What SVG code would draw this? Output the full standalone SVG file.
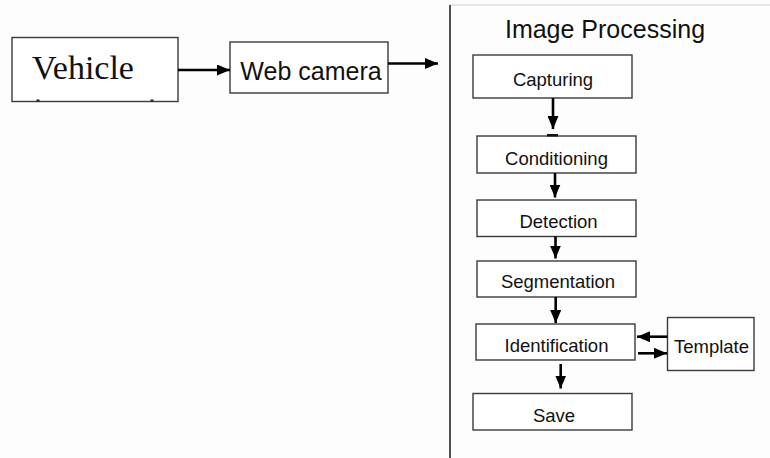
<svg xmlns="http://www.w3.org/2000/svg" width="770" height="458" viewBox="0 0 770 458">
<style>
.box{fill:#ffffff;stroke:#3a3a3a;stroke-width:1.4}
.lbl{font-family:"Liberation Sans",Arial,sans-serif;font-size:18.5px;fill:#111;text-anchor:middle}
.conn{stroke:#000;stroke-width:2.6;fill:none;marker-end:url(#ah)}
</style>
<defs>
<marker id="ah" markerUnits="userSpaceOnUse" markerWidth="13" markerHeight="11" refX="13" refY="5.5" orient="auto">
<path d="M0,0 L13,5.5 L0,11 z" fill="#000"/>
</marker>
</defs>
<rect x="0" y="0" width="770" height="458" fill="#fdfdfd"/>
<g id="frame">
<line x1="450" y1="5" x2="770" y2="5" stroke="#cfcfcf" stroke-width="1.2"/>
<line x1="450" y1="5" x2="450" y2="458" stroke="#505050" stroke-width="2"/>
<text x="605" y="38" font-family="'Liberation Sans',Arial,sans-serif" font-size="25" fill="#111" text-anchor="middle">Image Processing</text>
</g>
<g id="vehicle">
<rect class="box" x="12" y="37.5" width="166" height="64"/>
<text x="32" y="79" font-family="'Liberation Serif','Times New Roman',serif" font-size="34" fill="#111">Vehicle</text>
<rect x="36.5" y="99.5" width="3" height="2" fill="#222"/>
<rect x="150.5" y="99.5" width="3" height="2" fill="#222"/>
</g>
<g id="webcamera">
<rect class="box" x="230" y="42" width="158" height="51"/>
<text x="311" y="79.5" font-family="'Liberation Sans',Arial,sans-serif" font-size="25" fill="#111" text-anchor="middle">Web camera</text>
</g>
<g id="capturing">
<rect class="box" x="473" y="55" width="159" height="43"/>
<text class="lbl" x="553" y="86">Capturing</text>
</g>
<g id="conditioning">
<rect class="box" x="477" y="136" width="159" height="37"/>
<text class="lbl" x="556.5" y="164.5">Conditioning</text>
</g>
<g id="detection">
<rect class="box" x="477" y="200" width="159" height="36.5"/>
<text class="lbl" x="558.5" y="228">Detection</text>
</g>
<g id="segmentation">
<rect class="box" x="477" y="261" width="159" height="36"/>
<text class="lbl" x="558" y="288">Segmentation</text>
</g>
<g id="identification">
<rect class="box" x="476" y="324" width="159" height="36"/>
<text class="lbl" x="556.5" y="351.5">Identification</text>
</g>
<g id="template">
<rect class="box" x="667.5" y="317.5" width="86.5" height="53"/>
<text class="lbl" x="711.5" y="353">Template</text>
</g>
<g id="save">
<rect class="box" x="473" y="393.5" width="159" height="36.5"/>
<text class="lbl" x="554" y="421.5">Save</text>
</g>
<g id="connectors">
<line class="conn" x1="178" y1="70" x2="230" y2="70"/>
<line class="conn" x1="388" y1="63.5" x2="438" y2="63.5"/>
<line class="conn" x1="553" y1="98" x2="553" y2="129"/>
<rect x="547" y="134" width="11" height="2.5" fill="#111"/>
<line class="conn" x1="555" y1="173" x2="555" y2="197.5"/>
<line class="conn" x1="555.5" y1="236.5" x2="555.5" y2="258.5"/>
<line class="conn" x1="555.7" y1="297" x2="555.7" y2="323"/>
<line class="conn" x1="667.5" y1="336.7" x2="637" y2="336.7"/>
<line class="conn" x1="638" y1="353.3" x2="667" y2="353.3"/>
<line class="conn" x1="560.7" y1="364" x2="560.7" y2="388.5"/>
</g>
</svg>
